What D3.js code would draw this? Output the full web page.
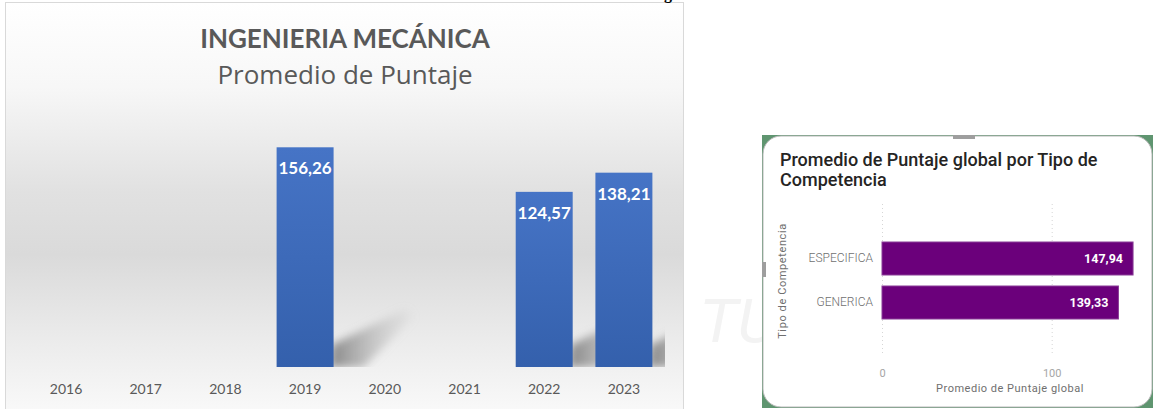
<!DOCTYPE html>
<html lang="es">
<head>
    <meta charset="UTF-8">
    <title>Ingenieria Mecánica - Promedio de Puntaje</title>
    <style>
        body {
            margin: 0;
            background: #fff;
        }
        svg {
            display: block;
        }
        .year-axis text {
            font-family: Lato, sans-serif;
            font-size: 14px;
            fill: #595959;
        }
        .pbi-axis text {
            font-family: Roboto, sans-serif;
            font-size: 11px;
            fill: #a6a6a6;
        }
        .pbi-cat text {
            font-family: Roboto, sans-serif;
            font-weight: 300;
            font-size: 12px;
            fill: #6f6f6f;
        }
        .pbi-grid line {
            stroke: #d6d6d6;
            stroke-dasharray: 1 3;
        }
    </style>
</head>
<body>
    <svg width="1154" height="409"></svg>
    <script src="https://d3js.org/d3.v7.min.js"></script>
    <script>
        // left chart data
        const years = ["2016", "2017", "2018", "2019", "2020", "2021", "2022", "2023"];
        const avgScore = [null, null, null, 156.26, null, null, 124.57, 138.21];

        // right chart data
        const competencias = ["ESPECIFICA", "GENERICA"];
        const avgGlobal = [147.94, 139.33];
        const globalTicks = [0, 100];

        const es = d3.formatLocale({decimal: ",", thousands: ".", grouping: [3], currency: ["", ""]});
        const fmt = es.format(".2f");

        const svg = d3.select("svg");
        const defs = svg.append("defs");

        // ---------- left panel ----------
        const bg = defs.append("linearGradient")
            .attr("id", "panelBg").attr("x1", 0).attr("y1", 0).attr("x2", 0).attr("y2", 1);
        [[0, "#ffffff"], [0.2, "#f7f7f7"], [0.45, "#e1e1e1"], [0.6, "#dadada"], [0.8, "#ebebeb"], [1, "#fbfbfb"]]
            .forEach(([o, c]) => bg.append("stop").attr("offset", o).attr("stop-color", c));

        const barGrad = defs.append("linearGradient")
            .attr("id", "barGrad").attr("x1", 0).attr("y1", 0).attr("x2", 0).attr("y2", 1);
        barGrad.append("stop").attr("offset", 0).attr("stop-color", "#4674c6");
        barGrad.append("stop").attr("offset", 1).attr("stop-color", "#3460ac");

        const shadowGrad = defs.append("linearGradient")
            .attr("id", "shadowGrad").attr("x1", 0).attr("y1", 0).attr("x2", 1).attr("y2", 0);
        shadowGrad.append("stop").attr("offset", 0).attr("stop-color", "#7a7a7a").attr("stop-opacity", 0.9);
        shadowGrad.append("stop").attr("offset", 1).attr("stop-color", "#bdbdbd").attr("stop-opacity", 0.1);

        defs.append("filter").attr("id", "blur")
            .attr("x", -0.3).attr("y", -0.3).attr("width", 1.6).attr("height", 1.6)
            .append("feGaussianBlur").attr("stdDeviation", 4);

        defs.append("clipPath").attr("id", "plotClip")
            .append("rect").attr("x", 20).attr("y", 100).attr("width", 645).attr("height", 267);

        svg.append("rect")
            .attr("x", 5.5).attr("y", 2.5).attr("width", 678).attr("height", 420)
            .attr("fill", "url(#panelBg)")
            .attr("stroke", "#d9d9d9");

        // stray glyph from the page above, cut by the top edge as in the source
        svg.append("text")
            .attr("x", 664).attr("y", -1)
            .attr("font-family", "Liberation Serif, serif")
            .attr("font-weight", "bold")
            .attr("font-size", 16)
            .text("g");

        svg.append("text")
            .attr("x", 345).attr("y", 48)
            .attr("text-anchor", "middle")
            .attr("font-family", "Lato, sans-serif")
            .attr("font-weight", 700)
            .attr("font-size", 26)
            .attr("fill", "#595959")
            .text("INGENIERIA MECÁNICA");

        svg.append("text")
            .attr("x", 345).attr("y", 84)
            .attr("text-anchor", "middle")
            .attr("font-family", "Open Sans, sans-serif")
            .attr("font-size", 26)
            .attr("fill", "#595959")
            .text("Promedio de Puntaje");

        const step = 79.7;
        const x = d3.scaleBand()
            .domain(years)
            .range([66 - step / 2, 66 - step / 2 + step * years.length])
            .paddingInner(0.285)
            .paddingOuter(0.1425);
        const y = d3.scaleLinear().domain([0, 180]).range([367, 367 - 180 * 1.406]);

        const yearData = years.map((yr, i) => ({year: yr, value: avgScore[i]}))
            .filter(d => d.value != null);

        // soft floor shadows behind the bars
        svg.append("g").attr("clip-path", "url(#plotClip)")
            .selectAll("path")
            .data(yearData)
            .join("path")
            .attr("d", d => {
                const x1 = x(d.year) + x.bandwidth();
                const b = y(0);
                return `M${x1 - 4},${b} L${x1 - 2},${b - 22} L${x1 + 72},${b - 58} L${x1 + 80},${b - 50} L${x1 + 30},${b} Z`;
            })
            .attr("fill", "url(#shadowGrad)")
            .attr("filter", "url(#blur)");

        svg.append("g")
            .selectAll("rect")
            .data(yearData)
            .join("rect")
            .attr("x", d => x(d.year))
            .attr("y", d => y(d.value))
            .attr("width", x.bandwidth())
            .attr("height", d => y(0) - y(d.value))
            .attr("fill", "url(#barGrad)");

        svg.append("g")
            .selectAll("text")
            .data(yearData)
            .join("text")
            .attr("x", d => x(d.year) + x.bandwidth() / 2)
            .attr("y", d => y(d.value) + 27)
            .attr("text-anchor", "middle")
            .attr("font-family", "Lato, sans-serif")
            .attr("font-weight", 700)
            .attr("font-size", 17)
            .attr("fill", "#ffffff")
            .text(d => fmt(d.value));

        svg.append("g")
            .attr("class", "year-axis")
            .attr("transform", "translate(0,381)")
            .call(d3.axisBottom(x).tickSize(0))
            .call(g => g.select(".domain").remove());

        // ---------- watermark ----------
        svg.append("text")
            .attr("x", 702).attr("y", 342)
            .attr("font-family", "DejaVu Sans, sans-serif")
            .attr("font-style", "italic")
            .attr("font-size", 58)
            .attr("fill", "#f3f3f3")
            .text("TU");

        // ---------- right card (Power BI visual) ----------
        const card = {x: 762, y: 135, w: 391, h: 273};

        svg.append("rect")
            .attr("x", card.x).attr("y", card.y).attr("width", card.w).attr("height", card.h)
            .attr("fill", "#5f9570");
        svg.append("rect")
            .attr("x", card.x + 1).attr("y", card.y + 1).attr("width", card.w - 2).attr("height", card.h - 2)
            .attr("rx", 18)
            .attr("fill", "#ffffff")
            .attr("stroke", "#b8b8b8");
        svg.append("rect").attr("x", 953).attr("y", card.y).attr("width", 22).attr("height", 4).attr("fill", "#9e9e9e");
        svg.append("rect").attr("x", card.x).attr("y", 262).attr("width", 4).attr("height", 15).attr("fill", "#9e9e9e");

        svg.append("text")
            .attr("font-family", "Roboto, sans-serif")
            .attr("font-weight", 500)
            .attr("font-size", 18)
            .attr("fill", "#252423")
            .selectAll("tspan")
            .data(["Promedio de Puntaje global por Tipo de", "Competencia"])
            .join("tspan")
            .attr("x", 780)
            .attr("y", (d, i) => 166 + i * 20)
            .text(d => d);

        const hx = d3.scaleLinear().domain([0, 150]).range([882, 882 + 150 * 1.697]);
        const hy = d3.scaleBand()
            .domain(competencias)
            .range([231, 330])
            .paddingInner(0.25)
            .paddingOuter(0.25);

        svg.append("g")
            .attr("class", "pbi-grid")
            .attr("transform", "translate(0,353)")
            .call(d3.axisBottom(hx).tickValues(globalTicks).tickSize(-151).tickFormat(""))
            .call(g => g.select(".domain").remove());

        const hData = competencias.map((c, i) => ({cat: c, value: avgGlobal[i]}));

        svg.append("g")
            .selectAll("rect")
            .data(hData)
            .join("rect")
            .attr("x", hx(0))
            .attr("y", d => hy(d.cat))
            .attr("width", d => hx(d.value) - hx(0))
            .attr("height", hy.bandwidth())
            .attr("fill", "#6b007b")
            .attr("stroke", "#8a3d97")
            .attr("stroke-width", 1);

        svg.append("g")
            .selectAll("text")
            .data(hData)
            .join("text")
            .attr("x", d => hx(d.value) - 10)
            .attr("y", d => hy(d.cat) + hy.bandwidth() / 2 + 4)
            .attr("text-anchor", "end")
            .attr("font-family", "Roboto, sans-serif")
            .attr("font-weight", 700)
            .attr("font-size", 12.5)
            .attr("fill", "#ffffff")
            .text(d => fmt(d.value));

        svg.append("g")
            .attr("class", "pbi-cat")
            .attr("transform", "translate(873,0)")
            .call(d3.axisLeft(hy).tickSize(0).tickPadding(0))
            .call(g => g.select(".domain").remove());

        svg.append("g")
            .attr("class", "pbi-axis")
            .attr("transform", "translate(0,366)")
            .call(d3.axisBottom(hx).tickValues(globalTicks).tickSize(0).tickFormat(d3.format("d")))
            .call(g => g.select(".domain").remove());

        svg.append("text")
            .attr("x", 1010).attr("y", 392)
            .attr("text-anchor", "middle")
            .attr("font-family", "Roboto, sans-serif")
            .attr("font-size", 11)
            .attr("letter-spacing", 0.5)
            .attr("fill", "#6f6f6f")
            .text("Promedio de Puntaje global");

        svg.append("text")
            .attr("transform", "translate(786,281) rotate(-90)")
            .attr("text-anchor", "middle")
            .attr("font-family", "Roboto, sans-serif")
            .attr("font-size", 11)
            .attr("letter-spacing", 0.6)
            .attr("fill", "#6f6f6f")
            .text("Tipo de Competencia");
    </script>
</body>
</html>
